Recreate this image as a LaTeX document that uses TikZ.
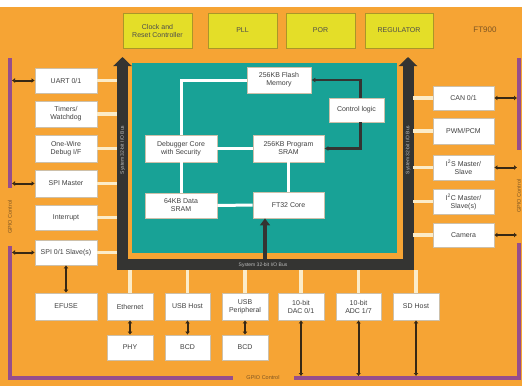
\documentclass[tikz,border=0pt]{standalone}
\usepackage{fontspec}
\setmainfont{Liberation Sans}
\usetikzlibrary{arrows.meta}
\definecolor{bgorange}{RGB}{246,164,52}
\definecolor{chipyellow}{RGB}{228,222,40}
\definecolor{yellowedge}{RGB}{170,150,40}
\definecolor{coreteal}{RGB}{24,162,150}
\definecolor{busgray}{RGB}{52,52,50}
\definecolor{gpiopurple}{RGB}{150,78,140}
\definecolor{linkcream}{RGB}{252,236,200}
\definecolor{boxedge}{RGB}{205,192,170}
\definecolor{labelbrown}{RGB}{125,85,35}
\definecolor{wiredark}{RGB}{55,40,20}

\tikzset{
  blk/.style={draw=boxedge,line width=0.8pt,fill=white,align=center,inner sep=1pt,
    text=black!75,font=\fontsize{7}{8}\selectfont},
  chip/.style={draw=yellowedge,line width=1pt,fill=chipyellow,align=center,inner sep=1pt,
    minimum height=35pt,text=black!70,font=\fontsize{7}{8}\selectfont},
  bus/.style={draw=busgray,line width=11pt,line join=miter,
    {Triangle[width=18pt,length=9pt]}-{Triangle[width=18pt,length=9pt]}},
  coreup/.style={draw=busgray,line width=4pt,-{Triangle[width=10pt,length=7pt]}},
  buslabel/.style={text=black!25,inner sep=0pt,font=\fontsize{5}{6}\selectfont},
  gpio/.style={draw=gpiopurple,line width=4pt,line join=miter},
  gpiolabel/.style={fill=bgorange,text=labelbrown,inner sep=0pt,minimum height=8pt,
    font=\fontsize{5.5}{6}\selectfont},
  iolink/.style={draw=linkcream,line width=3.5pt},
  corelink/.style={draw=white,line width=3pt},
  ctrllink/.style={draw=busgray,line width=2.2pt,-{Latex[length=4pt,width=5pt]}},
  gpiolink/.style={draw=wiredark,line width=2pt,
    {Latex[length=3pt,width=5pt]}-{Latex[length=3pt,width=5pt]}},
}

\begin{document}
\begin{tikzpicture}[x=1pt,y=-1pt]
\useasboundingbox (0,0) rectangle (522,386);
\fill[white] (0,0) rectangle (522,7);
\fill[bgorange] (0,7) rectangle (522,386);
\fill[coreteal] (132,63) rectangle (397,253);

\coordinate (busL) at (117,0);
\coordinate (busR) at (413,0);
\coordinate (busB) at (0,270);
\coordinate (gpioL) at (12,0);
\coordinate (gpioR) at (517,0);
\coordinate (gpioB) at (0,376);
\coordinate (coreIn) at (265,262);

\draw[bus] (122.5,57) -- (122.5,264.5) -- (408,264.5) -- (408,57);
\draw[gpio] (10,58) -- (10,378) -- (519,378) -- (519,58);

\node[buslabel,rotate=90] (busLtxt) at (122.5,150) {System 32-bit I/O Bus};
\node[buslabel,rotate=90] (busRtxt) at (408,150) {System 32-bit I/O Bus};
\node[buslabel] (busBtxt) at (263,265) {System 32-bit I/O Bus};
\node[gpiolabel,rotate=90,minimum width=58pt] (gpioLtxt) at (10,217) {GPIO Control};
\node[gpiolabel,rotate=90,minimum width=93pt] (gpioRtxt) at (519,196) {GPIO Control};
\node[gpiolabel,minimum width=61pt] (gpioBtxt) at (263,378) {GPIO Control};

\node[chip,minimum width=69pt] (clk) at (157.5,30.5) {Clock and\\Reset Controller};
\node[chip,minimum width=69pt] (pll) at (242.5,30.5) {PLL};
\node[chip,minimum width=69pt] (por) at (320.5,30.5) {POR};
\node[chip,minimum width=68pt] (reg) at (399,30.5) {REGULATOR};
\node[text=labelbrown,font=\fontsize{8}{9}\selectfont] (ft900) at (485,30) {FT900};

\node[blk,minimum width=64pt,minimum height=26pt] (flash) at (279,80) {256KB Flash\\Memory};
\node[blk,minimum width=55pt,minimum height=24pt] (ctrl) at (356.5,110) {Control logic};
\node[blk,minimum width=72pt,minimum height=27pt] (dbg) at (181,148.5) {Debugger Core\\with Security};
\node[blk,minimum width=71pt,minimum height=27pt] (psram) at (288.5,148.5) {256KB Program\\SRAM};
\node[blk,minimum width=72pt,minimum height=25pt] (dsram) at (181,205.5) {64KB Data\\SRAM};
\node[blk,minimum width=71pt,minimum height=26pt] (core) at (288.5,205) {FT32 Core};

\node[blk,minimum width=62pt,minimum height=25pt] (uart) at (66,80.5) {UART 0/1};
\node[blk,minimum width=62pt,minimum height=26pt] (tmr) at (66,114) {Timers/\\Watchdog};
\node[blk,minimum width=62pt,minimum height=27pt] (owd) at (66,148.5) {One-Wire\\Debug I/F};
\node[blk,minimum width=62pt,minimum height=27pt] (spim) at (66,183.5) {SPI Master};
\node[blk,minimum width=62pt,minimum height=25pt] (intr) at (66,217.5) {Interrupt};
\node[blk,minimum width=62pt,minimum height=25pt] (spis) at (66,252.5) {SPI 0/1 Slave(s)};
\node[blk,minimum width=62pt,minimum height=27pt] (efuse) at (66,306.5) {EFUSE};

\node[blk,minimum width=61pt,minimum height=24pt] (can) at (463.5,98) {CAN 0/1};
\node[blk,minimum width=61pt,minimum height=26pt] (pwm) at (463.5,131) {PWM/PCM};
\node[blk,minimum width=61pt,minimum height=25pt] (i2s) at (463.5,167.5) {I\textsuperscript{2}S Master/\\Slave};
\node[blk,minimum width=61pt,minimum height=25pt] (i2c) at (463.5,201.5) {I\textsuperscript{2}C Master/\\Slave(s)};
\node[blk,minimum width=61pt,minimum height=24pt] (cam) at (463.5,235) {Camera};

\node[blk,minimum width=46pt,minimum height=27pt] (eth) at (130,306.5) {Ethernet};
\node[blk,minimum width=45pt,minimum height=27pt] (usbh) at (187.5,306.5) {USB Host};
\node[blk,minimum width=46pt,minimum height=27pt] (usbp) at (245,306.5) {USB\\Peripheral};
\node[blk,minimum width=46pt,minimum height=27pt] (dac) at (301,306.5) {10-bit\\DAC 0/1};
\node[blk,minimum width=45pt,minimum height=27pt] (adc) at (358.5,306.5) {10-bit\\ADC 1/7};
\node[blk,minimum width=46pt,minimum height=27pt] (sdh) at (416,306.5) {SD Host};
\node[blk,minimum width=46pt,minimum height=25pt] (phy) at (130,347.5) {PHY};
\node[blk,minimum width=45pt,minimum height=25pt] (bcdh) at (187.5,347.5) {BCD};
\node[blk,minimum width=46pt,minimum height=25pt] (bcdp) at (245,347.5) {BCD};

\draw[corelink] (dbg.north) |- (flash.west);
\draw[corelink] (dbg) -- (psram);
\draw[corelink] (dbg) -- (dsram);
\draw[corelink] (dsram) -- (core);
\draw[corelink] (psram) -- (core);
\draw[ctrllink] ([xshift=4pt]ctrl.north) |- (flash.east);
\draw[ctrllink] ([xshift=4pt]ctrl.south) |- (psram.east);
\draw[coreup] (coreIn) -- (coreIn |- core.south);

\path (uart.east) edge[iolink] (uart.east -| busL);
\path (tmr.east) edge[iolink] (tmr.east -| busL);
\path (owd.east) edge[iolink] (owd.east -| busL);
\path (spim.east) edge[iolink] (spim.east -| busL);
\path (intr.east) edge[iolink] (intr.east -| busL);
\path (spis.east) edge[iolink] (spis.east -| busL);
\path (can.west) edge[iolink] (can.west -| busR);
\path (pwm.west) edge[iolink] (pwm.west -| busR);
\path (i2s.west) edge[iolink] (i2s.west -| busR);
\path (i2c.west) edge[iolink] (i2c.west -| busR);
\path (cam.west) edge[iolink] (cam.west -| busR);
\path (eth.north) edge[iolink] (eth.north |- busB);
\path (usbh.north) edge[iolink] (usbh.north |- busB);
\path (usbp.north) edge[iolink] (usbp.north |- busB);
\path (dac.north) edge[iolink] (dac.north |- busB);
\path (adc.north) edge[iolink] (adc.north |- busB);
\path (sdh.north) edge[iolink] (sdh.north |- busB);

\path (uart.west) edge[gpiolink] (uart.west -| gpioL);
\path (spim.west) edge[gpiolink] (spim.west -| gpioL);
\path (spis.west) edge[gpiolink] (spis.west -| gpioL);
\path (can.east) edge[gpiolink] (can.east -| gpioR);
\path (i2s.east) edge[gpiolink] (i2s.east -| gpioR);
\path (cam.east) edge[gpiolink] (cam.east -| gpioR);
\path (dac.south) edge[gpiolink] (dac.south |- gpioB);
\path (adc.south) edge[gpiolink] (adc.south |- gpioB);
\path (sdh.south) edge[gpiolink] (sdh.south |- gpioB);
\path (spis) edge[gpiolink] (efuse);
\path (eth) edge[gpiolink] (phy);
\path (usbh) edge[gpiolink] (bcdh);
\path (usbp) edge[gpiolink] (bcdp);
\end{tikzpicture}
\end{document}
